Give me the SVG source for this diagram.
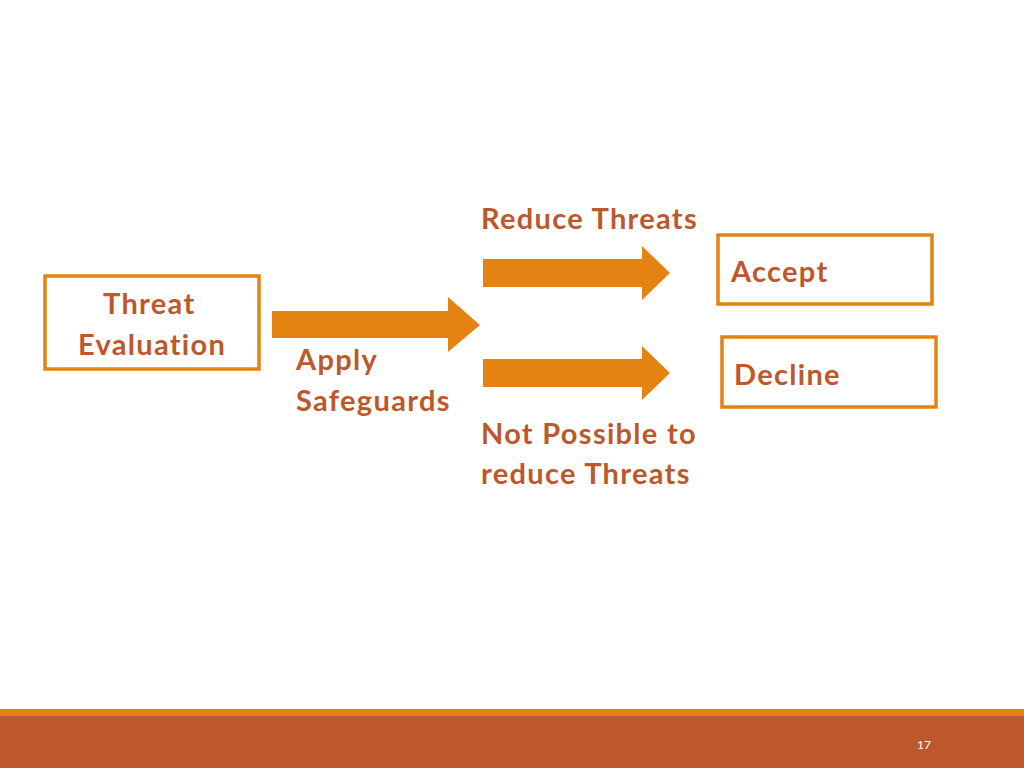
<svg xmlns="http://www.w3.org/2000/svg" width="1024" height="768" viewBox="0 0 1024 768">
<style>
.box{fill:#fff;stroke:#E48312;stroke-width:3.5}
.arr{fill:#E48312}
.t{font-family:Lato,"Liberation Sans",sans-serif;font-weight:bold;font-size:29px;letter-spacing:1.3px;fill:#BD582C}
</style>
<rect width="1024" height="768" fill="#fff"/>
<g id="connectors">
<polygon class="arr" points="272,311 448,311 448,297 480,325 448,352 448,338 272,338"/>
<polygon class="arr" points="483,259 642,259 642,246 670,273 642,300 642,287 483,287"/>
<polygon class="arr" points="483,359 642,359 642,346 670,373 642,400 642,387 483,387"/>
<text class="t" x="296" y="370">Apply</text>
<text class="t" x="296" y="411">Safeguards</text>
<text class="t" x="481" y="229">Reduce Threats</text>
<text class="t" x="481" y="444">Not Possible to</text>
<text class="t" x="481" y="484">reduce Threats</text>
</g>
<g id="threat-evaluation">
<rect class="box" x="45" y="276" width="214" height="93"/>
<text class="t" x="103" y="314">Threat</text>
<text class="t" x="78" y="355">Evaluation</text>
</g>
<g id="accept">
<rect class="box" x="718" y="235" width="214" height="69"/>
<text class="t" x="731" y="282">Accept</text>
</g>
<g id="decline">
<rect class="box" x="722" y="337" width="214" height="70"/>
<text class="t" x="734" y="385">Decline</text>
</g>
<g id="footer">
<rect x="0" y="709" width="1024" height="8" fill="#E48312"/>
<rect x="0" y="716" width="1024" height="52" fill="#BD582C"/>
<text x="924" y="749" text-anchor="middle" font-family="Lato,'Liberation Sans',sans-serif" font-size="12" fill="#fff">17</text>
</g>
</svg>
